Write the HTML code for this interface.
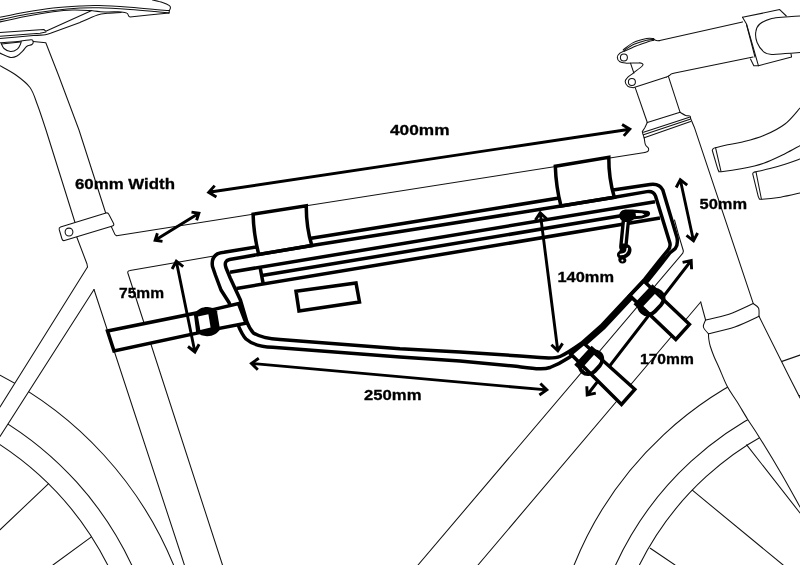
<!DOCTYPE html>
<html><head><meta charset="utf-8"><title>Frame bag dimensions</title>
<style>
html,body{margin:0;padding:0;background:#fff;}
body{width:800px;height:565px;overflow:hidden;font-family:"Liberation Sans",sans-serif;}
svg{display:block;filter:grayscale(1);}
.t{fill:none;stroke:#111;stroke-width:1.05;stroke-linejoin:round;stroke-linecap:round;}
.tw{fill:#fff;stroke:#111;stroke-width:1.05;stroke-linejoin:round;}
.b{fill:none;stroke:#000;stroke-width:3.5;stroke-linejoin:round;stroke-linecap:butt;}
.bw{fill:#fff;stroke:#000;stroke-width:3.5;stroke-linejoin:miter;}
.w{fill:#fff;stroke:none;}
.k{fill:#000;stroke:none;}
.a{fill:none;stroke:#000;stroke-linejoin:miter;stroke-linecap:butt;}
text{font-family:"Liberation Sans",sans-serif;font-weight:bold;fill:#000;stroke:#000;stroke-width:0.3;}
</style></head>
<body>
<svg width="800" height="565" viewBox="0 0 800 565">
<rect width="800" height="565" fill="#fff"/>
<path class="t" d="M0 375.2 A374.8 374.8 0 0 1 173.6 565"/>
<path class="t" d="M0 419.1 A336.5 336.5 0 0 1 131.7 565"/>
<path class="t" d="M0 444.6 A314.9 314.9 0 0 1 107.7 565"/>
<path class="t" d="M800 355.1 A362 362 0 0 0 574.1 565"/>
<path class="t" d="M800 395.4 A323.9 323.9 0 0 0 615.6 565"/>
<path class="t" d="M800 418.3 A302.4 302.4 0 0 0 639.4 565"/>
<path class="t" d="M0 529.8 L48.6 483.6"/>
<path class="t" d="M53 565 L91.1 537.2"/>
<path class="t" d="M692.3 490.2 L783.1 565"/>
<path class="t" d="M650.3 548.2 L675 565"/>
<path class="t" d="M746.7 444.9 L800 513"/>
<path class="w" d="M87.5 267 L0 406.9 L0 436.5 L94 289.5Z"/>
<path class="t" d="M0 406.9 L87.5 267"/>
<path class="t" d="M0 436.5 L94 289.5"/>
<path class="w" d="M708.5 333.8 C708.5 334.7 708.5 337 708.8 339 C709.1 341 709.3 343.1 710.2 346 C711.1 348.9 712.5 352.8 714 356.5 C715.5 360.2 717.2 363.5 719.4 368.5 C721.6 373.5 724.4 381 727.3 386.5 C730.2 392 733.5 396.1 736.9 401.5 C740.3 406.9 743.9 413.3 747.6 419.2 C751.3 425.1 753.4 427.6 759.1 436.9 C764.9 446.2 775.3 463.3 782.1 475 C788.9 486.7 797 501.7 800 507 L800 398 L788.3 375 L759 316.3Z"/>
<path class="t" d="M708.5 333.8 C708.5 334.7 708.5 337 708.8 339 C709.1 341 709.3 343.1 710.2 346 C711.1 348.9 712.5 352.8 714 356.5 C715.5 360.2 717.2 363.5 719.4 368.5 C721.6 373.5 724.4 381 727.3 386.5 C730.2 392 733.5 396.1 736.9 401.5 C740.3 406.9 743.9 413.3 747.6 419.2 C751.3 425.1 753.4 427.6 759.1 436.9 C764.9 446.2 775.3 463.3 782.1 475 C788.9 486.7 797 501.7 800 507"/>
<path class="t" d="M759 316.3 L788.3 375 L800 398"/>
<path class="t" d="M0 17.3 C4.4 16.4 17.8 13.6 26.6 12 C35.5 10.4 44.2 9 53.1 8 C62 7 72.4 6.4 80 6 C87.6 5.6 90.4 5.4 98.8 5.6 C107.1 5.8 120.6 6.6 130 7.2 C139.4 7.9 148.4 8.8 155 9.4 C161.6 10 167 10.4 169.4 10.6"/>
<path class="t" d="M0 19.9 C4.4 19 17.8 15.9 26.6 14.3 C35.5 12.7 44.2 11.4 53.1 10.4 C62 9.4 72.4 8.5 80 8.1 C87.6 7.7 90.4 7.5 98.8 7.8 C107.1 8 120.6 8.8 130 9.4 C139.4 10 148.5 10.9 155 11.5 C161.5 12.1 166.7 12.7 169 12.9"/>
<path class="t" d="M0 21.9 C4.4 20.9 17.8 17.9 26.6 16.2 C35.5 14.5 45.4 12.7 53.1 11.7 C60.8 10.7 66.6 10.2 73 10 C79.4 9.8 88.2 10.5 91.2 10.6"/>
<path class="t" d="M152.5 0 C154.2 0.4 159.7 1.6 162.5 2.5 C165.3 3.4 168.1 4.7 169.4 5.6 C170.7 6.5 170.4 7.3 170.4 8.1 C170.4 8.9 169.6 9.8 169.4 10.6 C169.2 11.4 169.1 12.5 169 12.9"/>
<path class="t" d="M91.2 10.6 C93.5 10.8 100 11.7 105 11.9 C110 12.1 117.6 11.7 121.2 11.9 C124.9 12.1 125.7 12.4 126.9 13.1 C128.2 13.8 128.2 15.6 128.8 16.2 C129.3 16.9 129.8 16.8 130 16.9 M130 16.9 L148.8 15 L169 12.9"/>
<path class="t" d="M0 32.5 L43.8 29.5 L45.8 31.2 L91.2 10.8"/>
<path class="t" d="M0 38.5 C5.5 38 25.7 36.2 33.2 35.6 C40.7 35 42.3 35.2 45.2 34.8 C48.1 34.4 49.6 33.5 50.5 33.2 M50.5 33.2 L80 22.5 M80 22.5 C82.9 21.2 92.9 16.5 97.5 15 C102.1 13.5 103.5 13.7 107.5 13.3 C111.5 12.9 119 12.6 121.2 12.4"/>
<path class="t" d="M0 36.2 L40 33.2 L46 32"/>
<path class="t" d="M0 42.8 C3.3 42.5 14.7 41.7 19.9 41.2 C25.1 40.7 29 39.7 31.2 39.8 C33.4 39.9 33.1 41 33.2 41.8 C33.3 42.6 33 43.7 31.9 44.5 C30.8 45.3 28.2 45.4 26.6 46.5 C25.1 47.6 24.2 49.6 22.6 51.1 C21.1 52.6 19.3 54.8 17.3 55.8 C15.3 56.8 13.5 57.8 10.6 57.4 C7.7 57 1.8 53.8 0 53.1"/>
<path class="t" d="M1.3 43.6 C1.8 44.4 2.5 47.2 4 48.5 C5.5 49.8 8.4 51.4 10.6 51.5 C12.8 51.6 15.6 50.4 17.3 49.1 C19 47.8 20 45.1 20.6 43.8 C21.2 42.5 21.1 41.6 21.2 41.2"/>
<path class="t" d="M1.3 43.9 L20.4 42.1"/>
<path class="t" d="M33.2 41.4 L45.8 42.8 L58.4 75 L79 130 L106 214"/>
<path class="t" d="M0 65.7 C2.6 67.2 10.9 71.4 15.9 75 C20.9 78.6 26.4 82.5 30 87.5 C33.6 92.5 34.8 97.9 37.5 105 C40.2 112.1 44.6 125.8 46 130 M46 130 L75 222.5"/>
<path class="t" d="M76 235 L87 264 L87.5 267"/>
<path class="t" d="M94 289.5 L184.4 565"/>
<path class="t" d="M111 226 L115 234.6 L116.6 235.7 L644.8 152.4"/>
<path class="t" d="M212.4 256.3 L130 270.6 Q127 271 128 273.5 L222.5 565"/>
<path class="tw" d="M60.5 227 L106 213 Q108 212.4 108.8 214.3 L113.6 223.5 Q114.4 225.3 112.5 225.9 L64.5 240.5 Q62.6 241 62 239 L59.2 229.5 Q58.7 227.6 60.5 227Z"/>
<circle class="t" cx="69" cy="232" r="3.9"/>
<path class="t" d="M674.5 220 L678.2 233.6 L683.4 251 L682.8 253.2 L418 565"/>
<path class="t" d="M700.7 302 L478 565"/>
<path class="t" d="M690.6 118.5 L694.3 127.2 L753.3 303.6"/>
<path class="t" d="M700.7 302 L705.6 320"/>
<path class="t" d="M705.6 320 C709.5 319.1 721 317 729 314.3 C737 311.6 749.2 305.4 753.3 303.6"/>
<path class="t" d="M753.3 303.6 C754.2 304.3 757.5 305.9 758.5 308 C759.5 310.1 758.9 314.9 759 316.3"/>
<path class="t" d="M759 316.3 C755 318.1 743.2 324.1 734.8 327 C726.4 329.9 712.9 332.7 708.5 333.8"/>
<path class="t" d="M705.6 320 C705.2 321.2 702.9 324.7 703.4 327 C703.9 329.3 707.6 332.7 708.5 333.8"/>
<path class="t" d="M635.2 87.7 L647.3 122.5"/>
<path class="t" d="M668.4 76.4 L680.1 112.3"/>
<path class="t" d="M647.3 122.5 L680.1 112.3 M680.1 112.3 C681 112.8 684.1 114.8 685.7 115.4 C687.4 116 689.2 115.6 690 116.1 C690.8 116.6 690.5 118.1 690.6 118.5"/>
<path class="t" d="M647.3 122.5 L644.8 127.8 L642.3 131.6 L642.9 134 L644.2 137.8"/>
<path class="t" d="M643.5 132.2 L689.4 117.3"/>
<path class="t" d="M643.5 134.7 L690 119.2"/>
<path class="t" d="M644.2 137.8 L690.6 121.6"/>
<path class="t" d="M644.2 137.8 C644.4 138.9 644.7 142.8 645.4 144.6 C646.1 146.3 648.1 147.2 648.5 148.3 C648.9 149.4 648.5 150.7 647.9 151.4 C647.3 152.1 645.3 152.2 644.8 152.4"/>
<path class="t" d="M653.8 39.3 C654.2 39.5 655.5 40.4 656.5 40.6 C657.5 40.8 659.2 40.6 659.8 40.6 M659.8 40.6 L742.5 21.9"/>
<path class="t" d="M666.4 77.1 C666.9 76.8 668.6 76 669.5 75.5 C670.4 75 670.6 74.2 671.7 73.8 C672.8 73.3 675.3 73 676 72.8 M676 72.8 L753 57"/>
<path class="t" d="M623.2 49.9 C624.9 48.7 629.3 44.5 633.2 42.6 C637.1 40.7 643.1 39.3 646.5 38.6 C649.9 37.9 652.6 38.6 653.8 38.6"/>
<path class="t" d="M624 50.6 C625.7 49.5 630.2 46 634 44.3 C637.8 42.6 643.2 41 646.5 40.2 C649.8 39.4 652.6 39.7 653.8 39.6"/>
<path class="t" d="M624.6 51.2 C626.5 50.3 632.1 47.6 636 46 C639.9 44.4 645 42.8 648 41.8 C651 40.8 652.8 40.5 653.8 40.2"/>
<path class="t" d="M624.6 50.8 C623.8 51.2 621.1 52.1 619.9 53.2 C618.7 54.3 617.3 55.8 617.3 57.2 C617.3 58.6 618.3 60.8 619.9 61.8 C621.5 62.8 625.5 63 626.6 63.2 M626.6 63.2 L639.3 62.8 M639.3 62.8 C639.8 62.9 641.8 63.1 642.3 63.6 C642.8 64.1 643.7 64.4 642.2 66 C640.7 67.6 635.7 71.1 633.2 73.1 C630.7 75.1 628.5 76.3 627.2 77.8 C625.9 79.2 625.1 80.4 625.2 81.8 C625.3 83.2 626.6 85.4 627.9 86.4 C629.2 87.4 632.3 87.5 633.2 87.7 M633.2 87.7 L666.4 77.1"/>
<path class="t" d="M630.5 63.2 L633.9 73.1"/>
<circle class="t" cx="623.9" cy="57.5" r="3.5"/>
<circle class="t" cx="631.9" cy="82" r="3.5"/>
<path class="t" d="M742.5 17.3 L779.7 9.6 L786.3 16"/>
<path class="t" d="M742.5 17.3 L746.5 24 L758.4 65.7 L791.6 57 L791 53.8"/>
<path class="t" d="M746.5 24.6 L755 57"/>
<path class="t" d="M750.5 59 L753.8 65.7 L758.4 65.7"/>
<path class="t" d="M800 16 C797.5 16.2 789.7 16.6 785 17 C780.3 17.4 775.9 17.4 771.7 18.6 C767.5 19.8 762.4 21.8 759.8 24 C757.1 26.2 756.2 28.8 755.8 31.9 C755.3 35 755.8 39.2 757.1 42.5 C758.4 45.8 761.3 49.8 763.7 51.8 C766.1 53.8 768.2 54.1 771.7 54.4 C775.2 54.7 780.3 53.9 785 53.6 C789.7 53.3 797.5 52.7 800 52.5"/>
<path class="t" d="M800 108 C797.5 110.7 791 119.4 785 124 C779 128.6 770.8 132.6 763.7 135.6 C756.6 138.6 748.9 140.4 742.5 142 C736.1 143.6 729.9 144.3 725.5 145.2 C721.1 146.1 718.1 147 716 147.6 C713.9 148.2 713.6 148.3 713 148.8 C712.4 149.3 712.4 150.2 712.3 150.5 M712.3 150.5 L717.7 168.8 M717.7 168.8 C717.9 169.2 718.2 170.5 718.8 171 C719.4 171.5 717.2 172.1 721.2 171.7 C725.2 171.3 735.4 170 742.5 168.6 C749.6 167.2 756.6 165.7 763.7 163.2 C770.8 160.7 779 156.6 785 153.7 C791 150.8 797.5 146.9 800 145.6"/>
<path class="t" d="M715.6 147.9 L721 171.3"/>
<path class="t" d="M800 159 C797.5 159.9 790 162.7 785 164.3 C780 165.9 774.7 167.4 770 168.6 C765.3 169.8 759.7 170.9 757 171.5 C754.3 172.1 754.3 172 753.6 172.4 C752.9 172.8 752.9 173.7 752.7 173.9 M752.7 173.9 L758.2 196.3 M758.2 196.3 C758.4 196.7 758.7 198.1 759.3 198.6 C759.9 199.1 758 199.5 761.6 199.3 C765.2 199.1 774.3 198.2 780.7 197.2 C787.1 196.1 796.8 193.7 800 193"/>
<path class="t" d="M756 171.9 L761.4 199"/>
<path class="a" d="M587.2 395 L691.2 260.5 M691.6 269.3 L691.2 260.5 L682.6 262.4 M586.8 386.2 L587.2 395 L595.8 393.1" stroke-width="2.9"/>
<path class="b" style="fill:#fff" d="M224 252.2 L330 235.2 L440 217.4 L556 198.6 L613 190 L650 184.4 Q659.5 183 662.8 190 L677 237.5 Q678.3 245 675.2 248.6 L669.8 253 L661.5 263.7 L647.3 281.4 L603.4 328.3 L584.4 345 C576 353.5 565 361.5 550 367.5 C543 370 536 368.8 516 366.3 L460 361 L400 357 L272.5 347.3 C262 346.8 252 344.3 246 339 C242.5 335.3 240.5 330.8 238 324.8 L229 302.5 L221 290 L215.4 275 L212.5 266.5 Q211 257.5 217.4 253.9 Q220 252.6 224 252.2Z"/>
<path d="M664.8 256.8 L660 262.4 L646 280.2 L602.1 327.1 L582.8 344" stroke="#000" stroke-width="3" fill="none"/>
<path class="bw" d="M253.1 214.2 L306.3 205.7 Q306 226 311.8 245.6 L258.7 254.4 Q253.5 233 253.1 214.2Z"/>
<path class="bw" d="M555.3 166.2 L608.8 157.2 Q608.6 178 614.3 197.3 L561 206 Q556 187 555.3 166.2Z"/>
<path class="bw" d="M107.5 331 L195.5 313.2 L198 333 L114 351Z"/>
<path class="bw" d="M214 309.4 L238.5 303.6 L246 323.2 L217.5 328.6Z"/>
<path class="k" d="M194.8 313.3 C198 308.8 203 306.8 207.5 307 C212 307.2 215.2 308.6 217 311.3 L220 329.2 C217.8 333.4 212.8 336.3 207 336.2 C202.6 336 199.6 335 197.6 332.6 L194.6 315Z"/>
<path class="w" d="M198 316.4 L208.4 314.2 L210.6 327.6 L200.3 330Z"/>
<path class="bw" d="M643.8 281 L689.4 324.3 L675.8 339.4 L629.8 295.6Z"/>
<g transform="translate(643.8,281) rotate(43.5)">
<rect class="b" style="stroke-width:3.9" x="11" y="-3.4" width="18" height="27.1" rx="8.5" ry="9"/>
<rect class="k" x="8.5" y="-3.6" width="8.5" height="27.5"/>
</g>
<path class="bw" d="M583.7 343.3 L634.8 389.3 L621.5 404.4 L570.8 354.1Z"/>
<g transform="translate(583.7,343.3) rotate(42.5)">
<rect class="b" style="stroke-width:3.9" x="10" y="-3.4" width="17" height="25.400000000000002" rx="8.5" ry="9"/>
<rect class="k" x="7.5" y="-3.6" width="8.0" height="25.8"/>
</g>
<path class="b" d="M229.5 259.5 L258.7 254.4 L311.8 245.6 L440 225.3 L561 206 L614.3 197.3 L647 191.6 Q653.5 190.6 655.5 196 L669.9 243 Q670.8 247.5 667.8 250.3 L658.8 261.3 L644.8 279.2 L600.9 326.1 L581.4 343.3 C572 350 566 354 560 356.5 C555 358.5 548 358.2 540 357.6 L520 356 L460 352 L400 348.8 L280 339.6 C268 338.8 259 336.5 253.4 333 C250 329.5 248.5 326 247 322.2 L240.4 300 L230.2 278 L225.9 267.5 Q223.7 260.8 229.5 259.5Z"/>
<path class="b" d="M230 272.2 L655 201.7"/>
<path class="b" d="M262 275.6 L633 213.8"/>
<path class="b" d="M236.5 288.5 L660 218.1"/>
<path class="b" d="M260.2 268 L263.1 283.2"/>
<path class="bw" style="fill:none;stroke-width:3.5" d="M296 291.2 L356 283 L359.5 302 L299 311Z"/>
<path class="k" d="M619.2 215.5 C619.2 211.3 623 209.2 627 209.4 L632.5 209.6 L647 210.8 C650.8 211.3 650.8 214.7 648.7 216.3 L642 218.6 L634 219.2 C631 221.4 629 222 626 221.8 C622 221.4 619.2 219.2 619.2 215.5Z"/>
<path class="w" d="M635.5 213 L642 213.3 L644.5 214.5 L641.5 215.8 L636 216Z"/>
<path d="M626.3 216 L623.3 247" stroke="#000" stroke-width="8.4" fill="none" stroke-linecap="round"/>
<path d="M625.8 222 L623.6 244" stroke="#fff" stroke-width="1.7" fill="none"/>
<path class="k" d="M621 244 C626 242.5 631.3 245 631.5 249.5 C631.7 254 628.5 257 625.5 258 C627.5 260.5 626 263.5 622.7 263.6 C619 263.7 617.6 260.5 618.6 258 C616.3 256.5 616.5 252.5 619 251.2 C620.5 250 620 246 621 244Z"/>
<path d="M620.5 254.5 C624.5 254.5 627.3 252 627.3 248.5" stroke="#fff" stroke-width="1.6" fill="none" stroke-linecap="round"/>
<circle cx="622.4" cy="260.4" r="1" fill="#fff"/>
<path class="a" d="M208.7 192.3 L629.8 129.2 M623.8 135.9 L629.8 129.2 L622.1 124.5 M214.7 185.6 L208.7 192.3 L216.4 197" stroke-width="2.9"/>
<path class="a" d="M155.1 240.3 L198.9 213.2 M196.6 220.3 L198.9 213.2 L191.5 212.1 M157.4 233.2 L155.1 240.3 L162.5 241.4" stroke-width="2.9"/>
<path class="a" d="M176.3 261.2 L194.9 352 M188 346.5 L194.9 352 L199.1 344.2 M183.2 266.7 L176.3 261.2 L172.1 269" stroke-width="2.9"/>
<path class="a" d="M251.4 363.4 L546.8 389.9 M539.4 395 L546.8 389.9 L540.4 383.5 M258.8 358.3 L251.4 363.4 L257.8 369.8" stroke-width="2.9"/>
<path class="a" d="M540.2 212.7 L557.8 350.8 M551.4 344.8 L557.8 350.8 L562.6 343.4 M546.6 218.7 L540.2 212.7 L535.4 220.1" stroke-width="2.9"/>
<path class="a" d="M680.3 179.7 L693.5 240.8 M686.5 235.4 L693.5 240.8 L697.6 233 M687.2 185.1 L680.3 179.7 L676.2 187.5" stroke-width="2.9"/>
<text x="75" y="189" font-size="15" textLength="100" lengthAdjust="spacingAndGlyphs">60mm Width</text>
<text x="390" y="135" font-size="15" textLength="59.5" lengthAdjust="spacingAndGlyphs">400mm</text>
<text x="699.5" y="209.3" font-size="15" textLength="47.5" lengthAdjust="spacingAndGlyphs">50mm</text>
<text x="119" y="298" font-size="15" textLength="45" lengthAdjust="spacingAndGlyphs">75mm</text>
<text x="557.5" y="282.3" font-size="15" textLength="56.5" lengthAdjust="spacingAndGlyphs">140mm</text>
<text x="640" y="363.8" font-size="15" textLength="53.8" lengthAdjust="spacingAndGlyphs">170mm</text>
<text x="364" y="399.6" font-size="15" textLength="57.5" lengthAdjust="spacingAndGlyphs">250mm</text>
</svg>
</body></html>
